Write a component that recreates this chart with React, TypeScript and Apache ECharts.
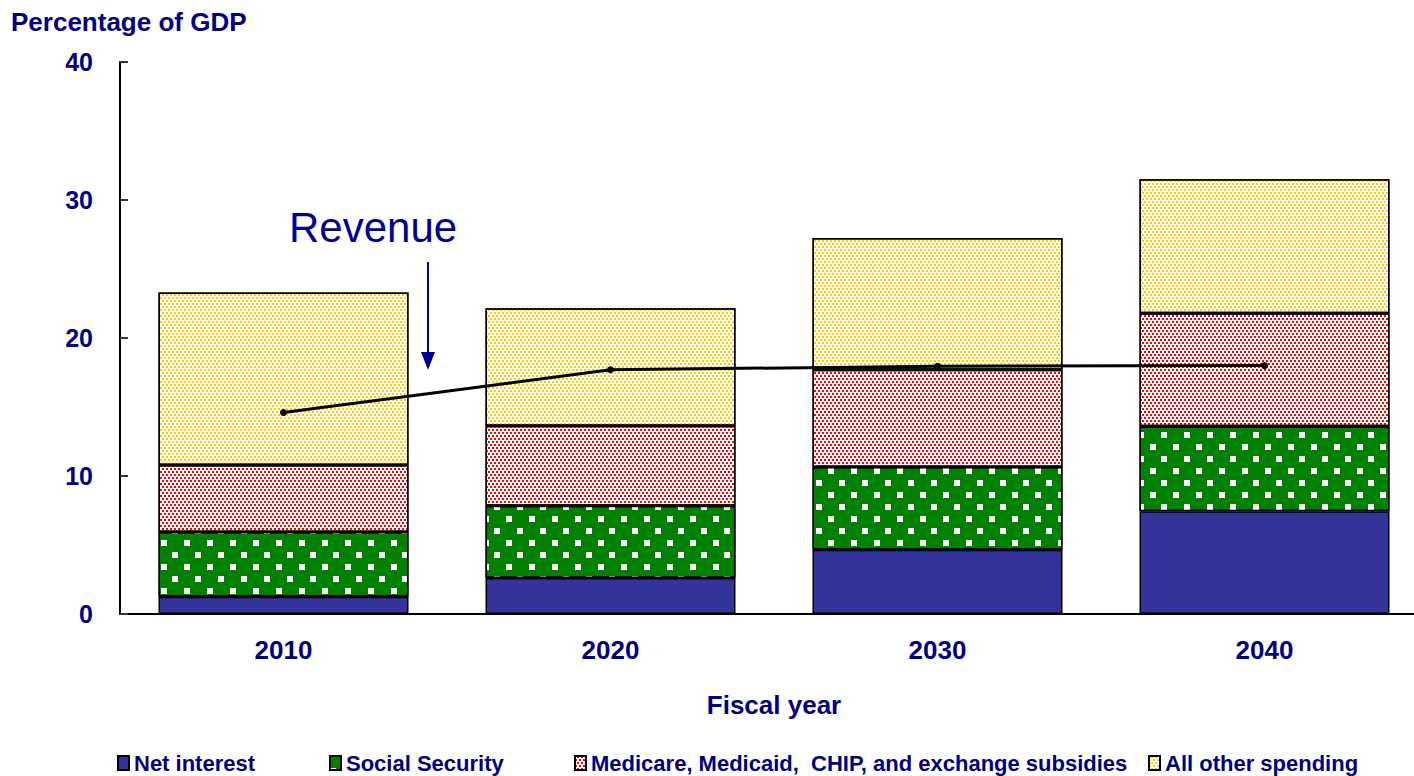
import React, { useEffect, useRef } from "react";
import * as echarts from "echarts";

const years = ["2010", "2020", "2030", "2040"];
const netInterest = [1.25, 2.6, 4.65, 7.45];
const socialSecurity = [4.7, 5.25, 6.0, 6.15];
const medicare = [4.85, 5.8, 7.05, 8.2];
const allOther = [12.5, 8.5, 9.55, 9.7];
const revenue = [14.6, 17.7, 17.95, 18.0];
const yTicks = [0, 10, 20, 30, 40];

const NAVY = "#000080";
const FONT = "Arial, 'Liberation Sans', sans-serif";

export default function App() {
  const ref = useRef<HTMLDivElement>(null);
  useEffect(() => {
    if (!ref.current) return;
    const chart = echarts.init(ref.current, undefined, { renderer: "svg" });
    const legendText = { color: NAVY, fontWeight: "bold", fontSize: 22, lineHeight: 22, fontFamily: FONT };
    const mkLegend = (name: string, left: number) => ({
      data: [name],
      left,
      top: 752,
      itemWidth: 11,
      itemHeight: 14,
      itemGap: 4,
      icon: "rect",
      textStyle: legendText,
      padding: 0,
    });
    const border = { borderColor: "#000", borderWidth: 1.5 };
    chart.setOption({
      animation: false,
      backgroundColor: "#fff",
      grid: { left: 120, top: 62, width: 1308, height: 552 },
      legend: [
        mkLegend("Net interest", 117),
        mkLegend("Social Security", 329),
        mkLegend("Medicare, Medicaid,  CHIP, and exchange subsidies", 574),
        mkLegend("All other spending", 1148),
      ],
      title: {
        text: "Percentage of GDP",
        left: 11,
        top: 9,
        padding: 0,
        textStyle: { color: NAVY, fontWeight: "bold", fontSize: 26, fontFamily: FONT },
      },
      xAxis: {
        type: "category",
        data: years,
        axisLine: { lineStyle: { color: "#000", width: 2 } },
        axisTick: { inside: true, length: 8, lineStyle: { color: "#000", width: 2 } },
        axisLabel: { color: NAVY, fontWeight: "bold", fontSize: 26, fontFamily: FONT, margin: 23 },
        name: "Fiscal year",
        nameLocation: "middle",
        nameGap: 78,
        nameTextStyle: { color: NAVY, fontWeight: "bold", fontSize: 26, fontFamily: FONT },
      },
      yAxis: {
        type: "value",
        min: yTicks[0],
        max: yTicks[yTicks.length - 1],
        interval: 10,
        axisLine: { show: true, lineStyle: { color: "#000", width: 2 } },
        axisTick: { show: true, inside: true, length: 8, lineStyle: { color: "#333", width: 2 } },
        splitLine: { show: false },
        axisLabel: { color: NAVY, fontWeight: "bold", fontSize: 25, fontFamily: FONT, margin: 27 },
      },
      series: [
        {
          name: "Net interest",
          type: "bar",
          stack: "s",
          barWidth: 250,
          data: netInterest,
          itemStyle: { color: "#333399", ...border },
        },
        {
          name: "Social Security",
          type: "bar",
          stack: "s",
          barWidth: 250,
          data: socialSecurity,
          itemStyle: {
            color: "#008000",
            ...border,
            decal: {
              symbol: "rect",
              symbolSize: 1,
              color: "#ffffff",
              dashArrayX: [[6, 17], [0, 11, 6, 6]],
              dashArrayY: [6, 6],
            },
          },
        },
        {
          name: "Medicare, Medicaid,  CHIP, and exchange subsidies",
          type: "bar",
          stack: "s",
          barWidth: 250,
          data: medicare,
          itemStyle: {
            color: "#ffffff",
            ...border,
            decal: {
              symbol: "rect",
              symbolSize: 1,
              color: "#ff0000",
              dashArrayX: [[2, 2], [0, 2, 2, 0]],
              dashArrayY: [2, 1],
            },
          },
        },
        {
          name: "All other spending",
          type: "bar",
          stack: "s",
          barWidth: 250,
          data: allOther,
          itemStyle: {
            color: "#ffffff",
            ...border,
            decal: {
              symbol: "rect",
              symbolSize: 1,
              color: "#ffcc00",
              dashArrayX: [[2, 2], [0, 2, 2, 0]],
              dashArrayY: [2, 1],
            },
          },
        },
        {
          name: "Revenue",
          type: "line",
          data: revenue,
          z: 5,
          symbol: "circle",
          symbolSize: 7,
          lineStyle: { color: "#000", width: 3 },
          itemStyle: { color: "#000" },
        },
      ],
      graphic: [
        {
          type: "text",
          left: 289,
          top: 206,
          style: { text: "Revenue", fill: "#000099", fontSize: 42, fontFamily: FONT },
        },
        {
          type: "line",
          shape: { x1: 428, y1: 262, x2: 428, y2: 354 },
          style: { stroke: "#000099", lineWidth: 2 },
        },
        {
          type: "polygon",
          shape: { points: [[421, 352], [435, 352], [428, 370]] },
          style: { fill: "#000099" },
        },
      ],
    });
    return () => chart.dispose();
  }, []);
  return (
    <div style={{ width: 1414, height: 776, position: "absolute", left: 0, top: 0, overflow: "hidden" }}>
      <div ref={ref} style={{ width: 1430, height: 776 }} />
    </div>
  );
}
